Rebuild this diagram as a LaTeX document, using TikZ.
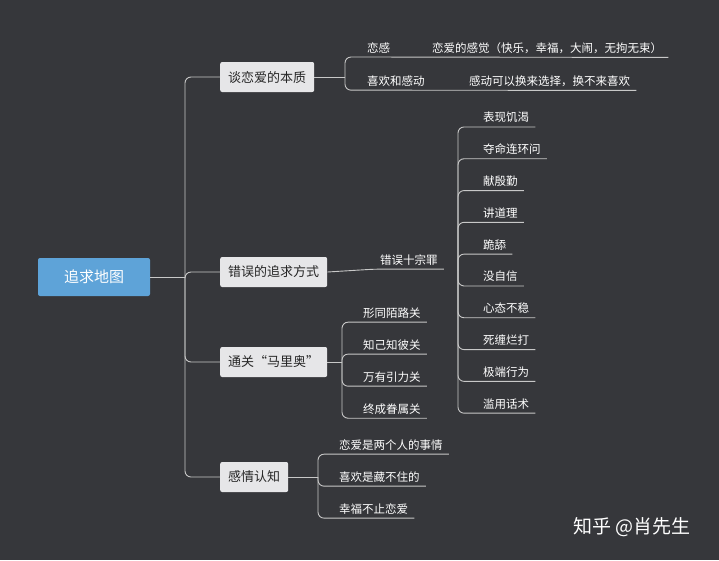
\documentclass[tikz,border=0pt]{standalone}
\usepackage{fontspec}
\setmainfont{Noto Sans CJK SC}
\usetikzlibrary{positioning}
\definecolor{bgdark}{HTML}{36373B}
\definecolor{rootblue}{HTML}{5EA3D8}
\definecolor{boxgray}{HTML}{E6E6E8}
\definecolor{linegray}{HTML}{C8C8C8}

\begin{document}
\begin{tikzpicture}[x=1pt, y=-1pt]
  \tikzstyle{root}=[rounded corners=2, fill=rootblue, text=white, minimum width=112, minimum height=38, font=\fontsize{15}{18}\selectfont]
  \tikzstyle{branch}=[rounded corners=2, fill=boxgray, text=black!85, minimum height=30, inner xsep=8, font=\fontsize{13}{15}\selectfont]
  \tikzstyle{leaf}=[text=white, anchor=base west, inner xsep=6, inner ysep=4, font=\fontsize{11.5}{14}\selectfont]
  \tikzstyle{link}=[draw=linegray, line width=0.9, rounded corners=6]

  \fill [bgdark] (0, 0) rectangle (719, 560);

  \node [root] (R) at (94, 277) {追求地图};

  \node [branch, anchor=west] (B-1) at (220, 77) {谈恋爱的本质};
  \node [branch, anchor=west] (B-2) at (220, 272) {错误的追求方式};
  \node [branch, anchor=west] (B-3) at (220, 362) {通关“马里奥”};
  \node [branch, anchor=west] (B-4) at (220, 477) {感情认知};

  \coordinate (spine) at (185, 277);
  \draw [link] (R) -- (spine);
  \foreach \b in {B-1, B-2, B-3, B-4}
    \draw [link] (spine) |- (\b.west);

  % 谈恋爱的本质
  \node [leaf] (L-1) at (361, 52) {恋感};
  \node [leaf] (L-1a) at (426, 52) {恋爱的感觉（快乐，幸福，大闹，无拘无束）};
  \node [leaf] (L-2) at (361, 85) {喜欢和感动};
  \node [leaf] (L-2a) at (463, 85) {感动可以换来选择，换不来喜欢};
  \coordinate (H-1) at (345, 77);
  \draw [link] (B-1.east) -- (H-1);
  \draw [link] (H-1) |- (L-1.south west) -- (L-1a.south east);
  \draw [link] (H-1) |- (L-2.south west) -- (L-2a.south east);

  % 错误的追求方式
  \node [leaf] (K) at (374, 264) {错误十宗罪};
  \draw [link] (B-2.east) -- (K.south west) -- (K.south east);
  \coordinate (H-2) at (458, 270);
  \foreach \t [count=\i] in {表现饥渴, 夺命连环问, 献殷勤, 讲道理, 跪舔, 没自信, 心态不稳, 死缠烂打, 极端行为, 滥用话术} {
    \node [leaf] (E-\i) at (477, 90 + 31.8*\i) {\t};
    \draw [link] (H-2) |- (E-\i.south west) -- (E-\i.south east);
  }

  % 通关
  \coordinate (H-3) at (342, 362);
  \draw [link] (B-3.east) -- (H-3);
  \foreach \t [count=\i] in {形同陌路关, 知己知彼关, 万有引力关, 终成眷属关} {
    \node [leaf] (M-\i) at (357, 285 + 32*\i) {\t};
    \draw [link] (H-3) |- (M-\i.south west) -- (M-\i.south east);
  }

  % 感情认知
  \coordinate (H-4) at (318, 477);
  \draw [link] (B-4.east) -- (H-4);
  \foreach \t [count=\i] in {恋爱是两个人的事情, 喜欢是藏不住的, 幸福不止恋爱} {
    \node [leaf] (C-\i) at (333, 417 + 32*\i) {\t};
    \draw [link] (H-4) |- (C-\i.south west) -- (C-\i.south east);
  }

  \node [text=white, font=\fontsize{19}{22}\selectfont] (W) at (632, 527) {知乎 @肖先生};
\end{tikzpicture}
\end{document}
